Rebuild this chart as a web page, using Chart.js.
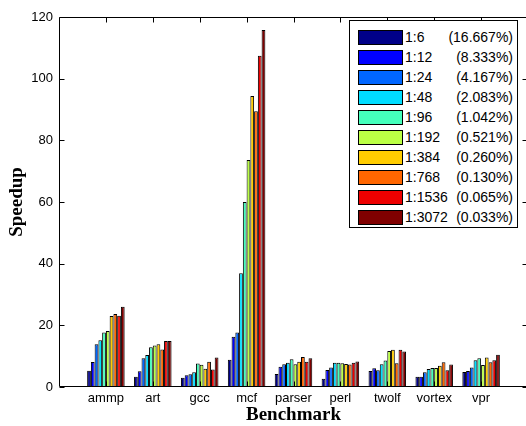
<!DOCTYPE html>
<html>
<head>
<meta charset="utf-8">
<script src="https://cdn.jsdelivr.net/npm/chart.js@4/dist/chart.umd.min.js"></script>
<style>
  body { margin: 0; background: #fff; }
  /* the original figure is cut off on the right, so the canvas is a bit wider than the view */
  #wrap { position: relative; width: 526px; height: 426px; overflow: hidden; }
  #legend {
    position: absolute; left: 349px; top: 20px; width: 169px; height: 208px;
    border: 1px solid #000; background: #fff; padding: 6px 4px 0 8px; box-sizing: border-box;
    font: 14px "Liberation Sans", Arial, sans-serif; color: #000;
  }
  .row { display: flex; align-items: center; height: 20px; white-space: nowrap; }
  .sw { width: 45px; height: 15px; border: 1px solid #000; box-sizing: border-box; margin-right: 2px; flex: none; }
  .ratio { flex: 1; }
  .pct { text-align: right; }
</style>
</head>
<body>
<div id="wrap">
  <canvas id="chart" width="530" height="426"></canvas>
  <div id="legend"></div>
</div>
<script>
// Speedup per benchmark, one series per sampling ratio
const benchmarks = ['ammp', 'art', 'gcc', 'mcf', 'parser', 'perl', 'twolf', 'vortex', 'vpr'];
const ratios = ['1:6', '1:12', '1:24', '1:48', '1:96', '1:192', '1:384', '1:768', '1:1536', '1:3072'];
const percents = ['(16.667%)', '(8.333%)', '(4.167%)', '(2.083%)', '(1.042%)', '(0.521%)', '(0.260%)', '(0.130%)', '(0.065%)', '(0.033%)'];
const colors = ['#000088', '#0000ff', '#0066ff', '#00ddff', '#44ffbb', '#bbff44', '#ffcc00', '#ff6600', '#ee0000', '#800000'];
const yTicks = [0, 20, 40, 60, 80, 100, 120];

const r6 = [5.3, 3.3, 3.0, 8.8, 4.2, 2.7, 5.2, 3.3, 4.9];
const r12 = [8.1, 5.1, 3.8, 16.3, 6.6, 5.5, 6.1, 3.3, 5.2];
const r24 = [13.9, 9.3, 4.1, 17.7, 7.4, 6.3, 5.4, 4.8, 6.3];
const r48 = [15.2, 10.4, 4.8, 36.9, 7.9, 7.9, 7.4, 5.8, 8.7];
const r96 = [17.7, 12.9, 7.6, 60.0, 9.0, 7.9, 8.6, 6.2, 9.3];
const r192 = [18.2, 13.5, 7.2, 73.6, 7.4, 7.7, 11.7, 6.2, 7.1];
const r384 = [23.0, 13.9, 5.9, 94.4, 8.2, 7.5, 12.1, 6.9, 9.6];
const r768 = [23.7, 12.2, 8.2, 89.4, 9.7, 7.3, 7.7, 8.0, 8.0];
const r1536 = [23.1, 14.9, 5.7, 107.4, 8.2, 7.9, 12.1, 5.4, 8.7];
const r3072 = [26.0, 14.9, 9.6, 115.8, 9.3, 8.3, 11.5, 7.3, 10.5];

const series = [r6, r12, r24, r48, r96, r192, r384, r768, r1536, r3072];

const TICK_FONT = { family: '"Liberation Sans", Arial, sans-serif', size: 13 };
const TITLE_FONT = { family: '"Liberation Serif", "Times New Roman", serif', size: 19, weight: 'bold' };

// matlab-style box with inward ticks on all four sides
const boxAxes = {
  id: 'boxAxes',
  afterDatasetsDraw(chart) {
    const { ctx, chartArea: a, scales: { x, y } } = chart;
    const L = Math.round(a.left) + 0.5, R = Math.round(a.right) - 0.5;
    const T = Math.round(a.top) + 0.5, B = Math.round(a.bottom) - 0.5;
    ctx.save();
    ctx.strokeStyle = '#000';
    ctx.lineWidth = 1;
    ctx.beginPath();
    ctx.rect(L, T, R - L, B - T);
    x.ticks.forEach((t) => {
      const px = Math.round(x.getPixelForValue(t.value)) + 0.5;
      ctx.moveTo(px, B); ctx.lineTo(px, B - 5);
      ctx.moveTo(px, T); ctx.lineTo(px, T + 5);
    });
    y.ticks.forEach((t) => {
      const py = Math.round(y.getPixelForValue(t.value)) + 0.5;
      ctx.moveTo(L, py); ctx.lineTo(L + 5, py);
      ctx.moveTo(R, py); ctx.lineTo(R - 5, py);
    });
    ctx.stroke();
    ctx.restore();
  },
};

new Chart(document.getElementById('chart'), {
  type: 'bar',
  data: {
    datasets: series.map((vals, i) => ({
      label: ratios[i],
      data: vals.map((v, j) => ({ x: j + 1, y: v })),
      backgroundColor: colors[i],
      borderColor: '#000',
      borderWidth: 1,
      categoryPercentage: 0.8,
      barPercentage: 1.0,
    })),
  },
  options: {
    responsive: false,
    animation: false,
    devicePixelRatio: 1,
    layout: { padding: { left: 0, top: 17, right: 2, bottom: 0 } },
    plugins: { legend: { display: false }, tooltip: { enabled: false } },
    scales: {
      x: {
        type: 'linear',
        offset: false,
        min: 0,
        max: 10,
        grid: { display: false, drawTicks: false },
        border: { display: false },
        afterBuildTicks: (scale) => { scale.ticks = benchmarks.map((_, i) => ({ value: i + 1 })); },
        afterFit: (scale) => { scale.height = 39; },
        ticks: {
          autoSkip: false,
          maxRotation: 0,
          padding: 4,
          color: '#000',
          font: TICK_FONT,
          callback: (v) => benchmarks[v - 1] || '',
        },
        title: { display: true, text: 'Benchmark', color: '#000', font: TITLE_FONT, padding: { top: 0, bottom: 0 } },
      },
      y: {
        min: 0,
        max: 120,
        grid: { display: false, drawTicks: false },
        border: { display: false },
        afterBuildTicks: (scale) => { scale.ticks = yTicks.map((v) => ({ value: v })); },
        afterFit: (scale) => { scale.width = 59; },
        ticks: { padding: 6, color: '#000', font: TICK_FONT },
        title: { display: true, text: 'Speedup', color: '#000', font: TITLE_FONT, padding: { top: 6, bottom: 0 } },
      },
    },
  },
  plugins: [boxAxes],
});

// legend box, built from the same arrays
document.getElementById('legend').innerHTML = ratios.map((r, i) => `
  <div class="row">
    <span class="sw" style="background:${colors[i]}"></span>
    <span class="ratio">${r}</span>
    <span class="pct">${percents[i]}</span>
  </div>`).join('');
</script>
</body>
</html>
